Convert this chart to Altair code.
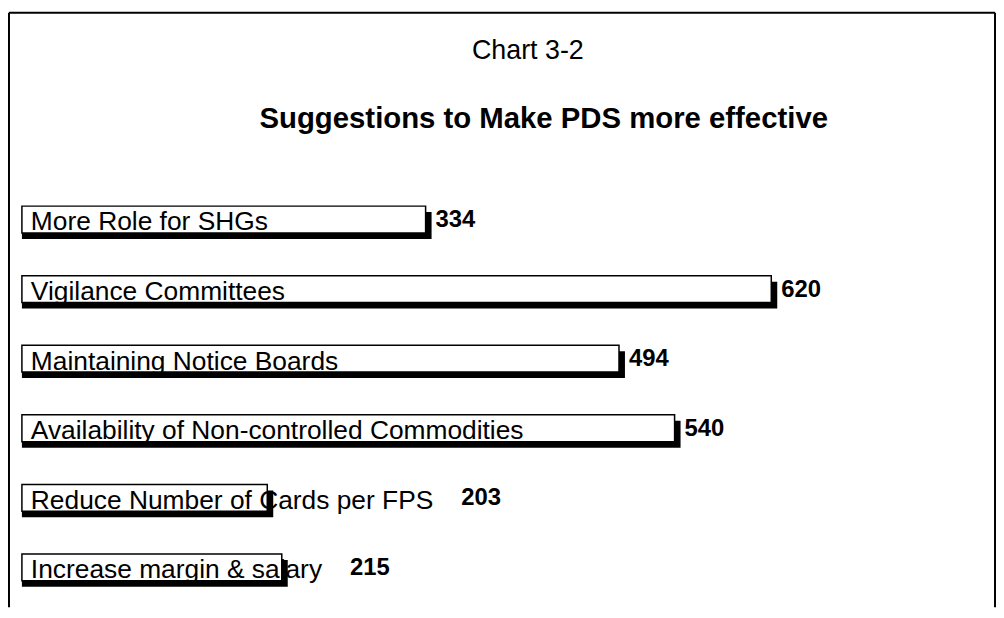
import altair as alt
import pandas as pd

# ---- data ----
categories = [
    "More Role for SHGs",
    "Vigilance Committees",
    "Maintaining Notice Boards",
    "Availability of Non-controlled Commodities",
    "Reduce Number of Cards per FPS",
    "Increase margin & salary",
]
values = [334, 620, 494, 540, 203, 215]
chart_number = "Chart 3-2"
chart_title = "Suggestions to Make PDS more effective"

# ---- layout constants ----
W, H = 992, 598
X_DOMAIN = [-10.69, 805.1]
Y_DOMAIN = [-2.90, 5.50]
FONT = "Liberation Sans"
CAT_SIZE = 26.5
VAL_SIZE = 24
LABEL_DX = 9
VALUE_DX = 10
OVERFLOW_GAP = 18  # extra room after a label that runs past its bar

# approximate Arial / Liberation Sans advance widths (per em) for label fitting
ARIAL = {
    " ": .278, "&": .667, "-": .333,
    "A": .667, "C": .722, "F": .611, "G": .778, "H": .722, "I": .278, "M": .833,
    "N": .722, "P": .667, "R": .722, "S": .667, "V": .667,
    "a": .556, "b": .556, "c": .5, "d": .556, "e": .556, "f": .278, "g": .556,
    "h": .556, "i": .222, "l": .222, "m": .833, "n": .556, "o": .556, "p": .556,
    "r": .333, "s": .5, "t": .278, "u": .556, "v": .5, "y": .5,
}
px_per_unit = W / (X_DOMAIN[1] - X_DOMAIN[0])


def value_anchor(v, s):
    w = sum(ARIAL.get(ch, .556) for ch in s) * CAT_SIZE
    end = (LABEL_DX + w) / px_per_unit
    if end > v:
        return end + OVERFLOW_GAP / px_per_unit
    return v


df = pd.DataFrame({
    "category": categories,
    "value": values,
    "row": list(range(len(categories))),
})
df["value_pos"] = [value_anchor(v, c) for v, c in zip(values, categories)]
df["zero"] = 0

xs = alt.Scale(domain=X_DOMAIN, nice=False, zero=False)
ys = alt.Scale(domain=Y_DOMAIN, nice=False, zero=False, reverse=True)

base = alt.Chart(df)

shadow = base.mark_bar(orient="horizontal", size=27, color="black",
                       xOffset=6, yOffset=6).encode(
    x=alt.X("value:Q", scale=xs, axis=None),
    x2="zero:Q",
    y=alt.Y("row:Q", scale=ys, axis=None),
)

bars = base.mark_bar(orient="horizontal", size=27, fill="white",
                     stroke="black", strokeWidth=1.5).encode(
    x=alt.X("value:Q", scale=xs, axis=None),
    x2="zero:Q",
    y=alt.Y("row:Q", scale=ys, axis=None),
    tooltip=["category:N", "value:Q"],
)

cat_labels = base.mark_text(align="left", baseline="alphabetic", dx=LABEL_DX,
                            dy=11, font=FONT, fontSize=CAT_SIZE,
                            color="black").encode(
    x=alt.X("zero:Q", scale=xs, axis=None),
    y=alt.Y("row:Q", scale=ys, axis=None),
    text="category:N",
)

val_labels = base.mark_text(align="left", baseline="alphabetic", dx=VALUE_DX,
                            dy=7.5, font=FONT, fontSize=VAL_SIZE,
                            fontWeight="bold", color="black").encode(
    x=alt.X("value_pos:Q", scale=xs, axis=None),
    y=alt.Y("row:Q", scale=ys, axis=None),
    text="value:Q",
)

frame_df = pd.DataFrame({"t": [chart_number]})
t1 = alt.Chart(pd.DataFrame({"t": [chart_number]})).mark_text(
    align="center", baseline="alphabetic", font=FONT, fontSize=27,
    color="black").encode(x=alt.value(522), y=alt.value(46), text="t:N")
t2 = alt.Chart(pd.DataFrame({"t": [chart_title]})).mark_text(
    align="center", baseline="alphabetic", font=FONT, fontSize=29.5,
    fontWeight="bold", color="black").encode(x=alt.value(538), y=alt.value(116), text="t:N")

frame_top = alt.Chart(frame_df).mark_rule(color="black", strokeWidth=2).encode(
    x=alt.value(0), x2=alt.value(W), y=alt.value(0))
frame_left = alt.Chart(frame_df).mark_rule(color="black", strokeWidth=2).encode(
    x=alt.value(0), y=alt.value(0), y2=alt.value(H))
frame_right = alt.Chart(frame_df).mark_rule(color="black", strokeWidth=2).encode(
    x=alt.value(W), y=alt.value(0), y2=alt.value(H))

chart = alt.layer(
    frame_top, frame_left, frame_right, t1, t2, shadow, bars, cat_labels, val_labels
).properties(
    width=W, height=H,
    padding={"left": 0, "top": 2, "right": 0, "bottom": 0},
    background="white",
).configure_view(stroke=None)

chart.save("out.html", embed_options={"renderer": "svg", "actions": False})
